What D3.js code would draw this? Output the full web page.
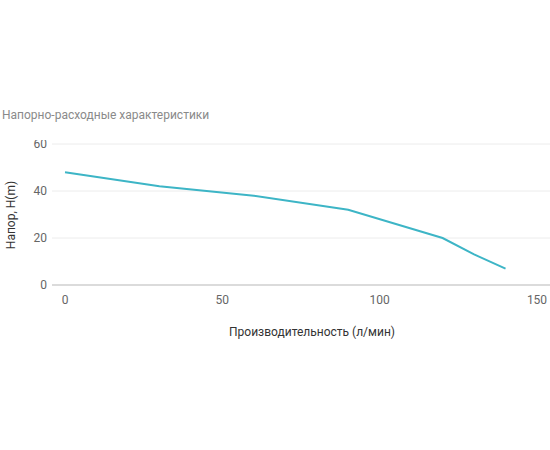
<!DOCTYPE html>
<html><head><meta charset="utf-8">
<script src="https://cdn.jsdelivr.net/npm/d3@7"></script>
<style>body{margin:0;background:#fff;font-family:Roboto,sans-serif}</style>
</head><body>
<div id="chart"></div>
<script>
var flow = [0, 30, 60, 90, 120, 130, 140];
var head = [48, 42, 38, 32, 20, 13, 7];
var yTicks = [0, 20, 40, 60];
var xTicks = [0, 50, 100, 150];

var svg = d3.select("#chart").append("svg").attr("width", 550).attr("height", 450);

var x = d3.scaleLinear().domain([0, 150]).range([65, 537]);
var y = d3.scaleLinear().domain([0, 60]).range([285, 144]);

svg.append("text").attr("x", 2).attr("y", 119)
  .attr("font-size", "12px").attr("fill", "#8a8a8a").text("Напорно-расходные характеристики");

svg.selectAll(".grid").data(yTicks).enter().append("line")
  .attr("x1", 52).attr("x2", 550)
  .attr("y1", function(d) { return y(d); }).attr("y2", function(d) { return y(d); })
  .attr("stroke", function(d) { return d === 0 ? "#cfcfcf" : "#ececec"; })
  .attr("stroke-width", function(d) { return d === 0 ? 1.5 : 1; });

svg.selectAll(".ylab").data(yTicks).enter().append("text")
  .attr("x", 47).attr("y", function(d) { return y(d) + 4; })
  .attr("text-anchor", "end").attr("font-size", "12px").attr("fill", "#666")
  .text(function(d) { return d; });

svg.selectAll(".xlab").data(xTicks).enter().append("text")
  .attr("x", function(d) { return x(d); }).attr("y", 304)
  .attr("text-anchor", "middle").attr("font-size", "12px").attr("fill", "#666")
  .text(function(d) { return d; });

// cover top of the 60 label like in the reference
svg.append("rect").attr("x", 30).attr("y", 128).attr("width", 25).attr("height", 12).attr("fill", "#fff");

svg.append("text").attr("transform", "translate(15,215) rotate(-90)")
  .attr("text-anchor", "middle").attr("font-size", "12px").attr("fill", "#333")
  .text("Напор, H(m)");

svg.append("text").attr("x", 312).attr("y", 336)
  .attr("text-anchor", "middle").attr("font-size", "12px").attr("fill", "#333")
  .text("Производительность (л/мин)");

var line = d3.line().x(function(d, i) { return x(flow[i]); }).y(function(d) { return y(d); });
svg.append("path").datum(head).attr("d", line)
  .attr("fill", "none").attr("stroke", "#3db5c6").attr("stroke-width", 2);
</script>
</body></html>
